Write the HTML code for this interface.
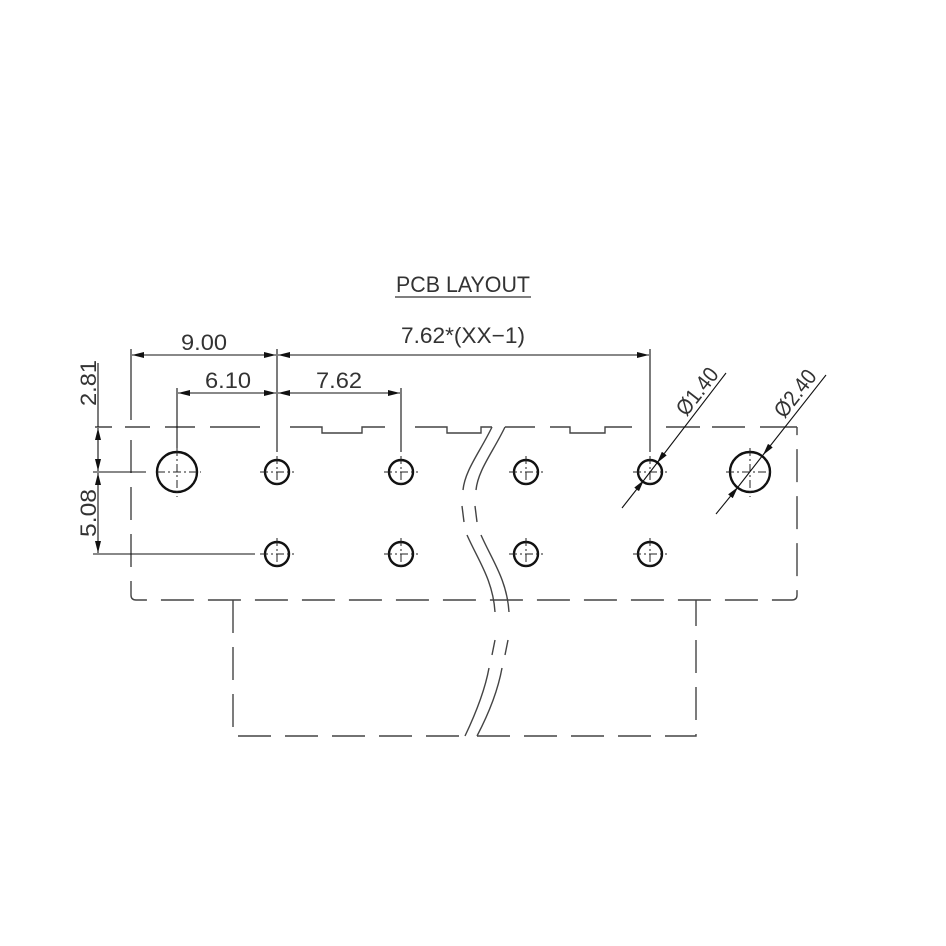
<!DOCTYPE html>
<html><head><style>html,body{margin:0;padding:0;background:#fff}svg{display:block}</style></head>
<body>
<svg width="946" height="946" viewBox="0 0 946 946" xmlns="http://www.w3.org/2000/svg" font-family="'Liberation Sans',sans-serif">
<defs>
<marker id="a" viewBox="0 0 12 6" refX="12" refY="3" markerWidth="12" markerHeight="6" orient="auto-start-reverse" markerUnits="userSpaceOnUse"><path d="M0,0 L12,3 L0,6z" fill="#111"/></marker>
</defs>
<rect width="946" height="946" fill="#fff"/>
<text x="463" y="292" font-size="22" text-anchor="middle" fill="#333" textLength="134" lengthAdjust="spacingAndGlyphs">PCB LAYOUT</text>
<line x1="395" y1="297" x2="531" y2="297" stroke="#333" stroke-width="1.3"/>

<g stroke="#444" stroke-width="1.4" fill="none" stroke-dasharray="33 14">
<path d="M131,440 V595 Q131,600 136,600 H792 Q797,600 797,595 V427" />
<path d="M233,600 V736 H465"/>
<path d="M477,736 H696 V600"/>
</g>
<g stroke="#444" stroke-width="1.4" fill="none">
<path d="M95,427 H112 M125,427 H150 M165,427 H195 M210,427 H260 M290,427 H322 V433 H362 V427 H385 M415,427 H447 V433 H481 V427 H492"/>
<path d="M505,427 H535 M550,427 H570 V433 H605 V427 H632 M666,427 H700 M712,427 H745 M760,427 H797"/>
<path d="M492,427 C480,452 465,470 463,490 M462,506 L464,522 M467,535 C478,560 493,580 495,612 M495,640 L492,655 M489,668 C485,690 475,715 465,736"/>
<path d="M505,427 C493,452 478,470 476,490 M475,506 L477,522 M481,535 C492,560 507,580 509,612 M508,640 L505,655 M502,668 C498,690 488,715 477,736"/>
</g>

<g stroke="#111" stroke-width="2.4" fill="none">
<circle cx="177" cy="472" r="20"/>
<circle cx="750" cy="472" r="20"/>
<circle cx="277" cy="472" r="12"/><circle cx="401" cy="472" r="12"/><circle cx="526" cy="472" r="12"/><circle cx="650" cy="472" r="12"/>
<circle cx="277" cy="554" r="12"/><circle cx="401" cy="554" r="12"/><circle cx="526" cy="554" r="12"/><circle cx="650" cy="554" r="12"/>
</g>
<g stroke="#222" stroke-width="1" stroke-dasharray="8 3 2 3" fill="none">
<path d="M157,472 H201 M177,448 V497 M726,472 H773 M750,448 V497"/>
<path d="M260,472 H294 M277,456 V488 M384,472 H418 M401,456 V488 M509,472 H543 M526,456 V488 M633,472 H667 M650,456 V488"/>
<path d="M260,554 H294 M277,538 V570 M384,554 H418 M401,538 V570 M509,554 H543 M526,538 V570 M633,554 H667 M650,538 V570"/>
</g>

<g stroke="#111" stroke-width="1.1" fill="none">
<line x1="131" y1="349" x2="131" y2="420"/>
<line x1="277" y1="349" x2="277" y2="452"/>
<line x1="650" y1="349" x2="650" y2="452"/>
<line x1="177" y1="388" x2="177" y2="448"/>
<line x1="401" y1="388" x2="401" y2="452"/>
<line x1="132" y1="355" x2="276" y2="355" marker-start="url(#a)" marker-end="url(#a)"/>
<line x1="278" y1="355" x2="649" y2="355" marker-start="url(#a)" marker-end="url(#a)"/>
<line x1="178" y1="393" x2="276" y2="393" marker-start="url(#a)" marker-end="url(#a)"/>
<line x1="278" y1="393" x2="400" y2="393" marker-start="url(#a)" marker-end="url(#a)"/>
<line x1="98" y1="363" x2="98" y2="427"/>
<line x1="98" y1="428" x2="98" y2="471" marker-start="url(#a)" marker-end="url(#a)"/>
<line x1="98" y1="473" x2="98" y2="553" marker-start="url(#a)" marker-end="url(#a)"/>
<line x1="93" y1="472" x2="146" y2="472"/>
<line x1="93" y1="554" x2="255" y2="554"/>
<line x1="622" y1="508" x2="644" y2="480" marker-end="url(#a)"/>
<line x1="726" y1="373" x2="657" y2="463" marker-end="url(#a)"/>
<line x1="644" y1="480" x2="657" y2="463"/>
<line x1="716" y1="514" x2="738" y2="487" marker-end="url(#a)"/>
<line x1="826" y1="375" x2="763" y2="455" marker-end="url(#a)"/>
<line x1="738" y1="487" x2="763" y2="455"/>
</g>

<g fill="#333" font-size="22">
<text x="204" y="350" text-anchor="middle" textLength="46" lengthAdjust="spacingAndGlyphs">9.00</text>
<text x="463" y="343" text-anchor="middle" textLength="124" lengthAdjust="spacingAndGlyphs">7.62*(XX−1)</text>
<text x="228" y="388" text-anchor="middle" textLength="46" lengthAdjust="spacingAndGlyphs">6.10</text>
<text x="339" y="388" text-anchor="middle" textLength="46" lengthAdjust="spacingAndGlyphs">7.62</text>
<text transform="translate(96,383) rotate(-90)" text-anchor="middle" textLength="46" lengthAdjust="spacingAndGlyphs">2.81</text>
<text transform="translate(96,513) rotate(-90)" text-anchor="middle" textLength="48" lengthAdjust="spacingAndGlyphs">5.08</text>
<text transform="translate(703,396) rotate(-52)" text-anchor="middle" textLength="54" lengthAdjust="spacingAndGlyphs">Ø1.40</text>
<text transform="translate(801,398) rotate(-52)" text-anchor="middle" textLength="54" lengthAdjust="spacingAndGlyphs">Ø2.40</text>
</g>
</svg>
</body></html>
